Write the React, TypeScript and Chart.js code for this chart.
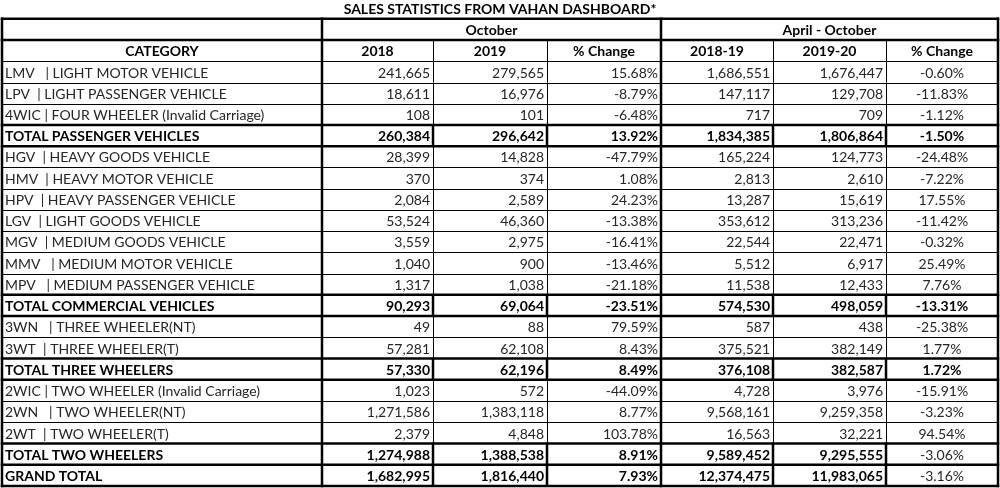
import React, { useEffect, useRef } from "react";
import { Chart, registerables } from "chart.js";

Chart.register(...registerables);

const titleText = "SALES STATISTICS FROM VAHAN DASHBOARD*";
const groupHeaders = ["October", "April - October"];
const columnHeaders = ["CATEGORY", "2018", "2019", "% Change", "2018-19", "2019-20", "% Change"];

const categories = [
  "LMV   | LIGHT MOTOR VEHICLE",
  "LPV  | LIGHT PASSENGER VEHICLE",
  "4WIC | FOUR WHEELER (Invalid Carriage)",
  "TOTAL PASSENGER VEHICLES",
  "HGV  | HEAVY GOODS VEHICLE",
  "HMV  | HEAVY MOTOR VEHICLE",
  "HPV  | HEAVY PASSENGER VEHICLE",
  "LGV  | LIGHT GOODS VEHICLE",
  "MGV  | MEDIUM GOODS VEHICLE",
  "MMV   | MEDIUM MOTOR VEHICLE",
  "MPV   | MEDIUM PASSENGER VEHICLE",
  "TOTAL COMMERCIAL VEHICLES",
  "3WN   | THREE WHEELER(NT)",
  "3WT  | THREE WHEELER(T)",
  "TOTAL THREE WHEELERS",
  "2WIC | TWO WHEELER (Invalid Carriage)",
  "2WN   | TWO WHEELER(NT)",
  "2WT  | TWO WHEELER(T)",
  "TOTAL TWO WHEELERS",
  "GRAND TOTAL",
];

const oct2018 = [241665, 18611, 108, 260384, 28399, 370, 2084, 53524, 3559, 1040, 1317, 90293, 49, 57281, 57330, 1023, 1271586, 2379, 1274988, 1682995];
const oct2019 = [279565, 16976, 101, 296642, 14828, 374, 2589, 46360, 2975, 900, 1038, 69064, 88, 62108, 62196, 572, 1383118, 4848, 1388538, 1816440];
const octChange = [15.68, -8.79, -6.48, 13.92, -47.79, 1.08, 24.23, -13.38, -16.41, -13.46, -21.18, -23.51, 79.59, 8.43, 8.49, -44.09, 8.77, 103.78, 8.91, 7.93];
const ytd1819 = [1686551, 147117, 717, 1834385, 165224, 2813, 13287, 353612, 22544, 5512, 11538, 574530, 587, 375521, 376108, 4728, 9568161, 16563, 9589452, 12374475];
const ytd1920 = [1676447, 129708, 709, 1806864, 124773, 2610, 15619, 313236, 22471, 6917, 12433, 498059, 438, 382149, 382587, 3976, 9259358, 32221, 9295555, 11983065];
const ytdChange = [-0.6, -11.83, -1.12, -1.5, -24.48, -7.22, 17.55, -11.42, -0.32, 25.49, 7.76, -13.31, -25.38, 1.77, 1.72, -15.91, -3.23, 94.54, -3.06, -3.16];

const totalRows = [3, 11, 14, 18, 19];

// layout (table units on the x scale, row units on the y scale)
const colEdges = [0, 320, 431, 545, 659, 771, 884, 996];
const HEADER_ROWS = 2;
const FONT = "Lato, 'Noto Sans', sans-serif";
const FS = 14;

const fmtNum = (v: number) => v.toLocaleString("en-US");
const fmtPct = (v: number) => v.toFixed(2) + "%";

const tablePlugin = {
  id: "tablePlugin",
  afterDraw(chart: any) {
    const ctx = chart.ctx as CanvasRenderingContext2D;
    const xs = chart.scales.x;
    const ys = chart.scales.y;
    const X = (v: number) => xs.getPixelForValue(v);
    const Y = (v: number) => ys.getPixelForValue(v);
    const nRows = HEADER_ROWS + categories.length;

    ctx.save();
    const text = (s: string, x: number, row: number, align: CanvasTextAlign, bold: boolean) => {
      ctx.font = `${bold ? "bold " : ""}${FS}px ${FONT}`;
      ctx.fillStyle = bold ? "#000" : "#262626";
      ctx.textAlign = align;
      ctx.textBaseline = "alphabetic";
      const yb = Y(row + 1) - 5;
      ctx.fillText(s, x, yb);
    };

    // header row 1
    text(groupHeaders[0], (X(colEdges[1]) + X(colEdges[4])) / 2, 0, "center", true);
    text(groupHeaders[1], (X(colEdges[4]) + X(colEdges[7])) / 2, 0, "center", true);
    // header row 2
    columnHeaders.forEach((h, c) => {
      text(h, (X(colEdges[c]) + X(colEdges[c + 1])) / 2, 1, "center", true);
    });

    categories.forEach((cat, i) => {
      const r = HEADER_ROWS + i;
      const bold = totalRows.includes(i);
      text(cat, X(colEdges[0]) + 3, r, "left", bold);
      text(fmtNum(oct2018[i]), X(colEdges[2]) - 3, r, "right", bold);
      text(fmtNum(oct2019[i]), X(colEdges[3]) - 3, r, "right", bold);
      text(fmtPct(octChange[i]), X(colEdges[4]) - 3, r, "right", bold);
      text(fmtNum(ytd1819[i]), X(colEdges[5]) - 3, r, "right", bold);
      text(fmtNum(ytd1920[i]), X(colEdges[6]) - 3, r, "right", bold);
      text(fmtPct(ytdChange[i]), (X(colEdges[6]) + X(colEdges[7])) / 2, r, "center", bold && i < 18);
    });

    const line = (x1: number, y1: number, x2: number, y2: number, w: number) => {
      ctx.beginPath();
      ctx.lineWidth = w;
      ctx.strokeStyle = "#000";
      if (w === 1) {
        if (x1 === x2) { x1 = x2 = Math.round(x1) + 0.5; }
        if (y1 === y2) { y1 = y2 = Math.round(y1) + 0.5; }
      }
      ctx.moveTo(x1, y1);
      ctx.lineTo(x2, y2);
      ctx.stroke();
    };

    const L = X(colEdges[0]);
    const R = X(colEdges[colEdges.length - 1]);
    const isTotalRow = (r: number) => r >= HEADER_ROWS && totalRows.includes(r - HEADER_ROWS);
    const thickH = (b: number) => b === 0 || b === 1 || b === nRows || isTotalRow(b) || isTotalRow(b - 1);

    // thin horizontal lines
    for (let b = 2; b < nRows; b++) if (!thickH(b)) line(L, Y(b), R, Y(b), 1);
    // thin vertical lines
    [2, 3, 5, 6].forEach((c) => {
      for (let r = 1; r < nRows; r++) {
        if (!isTotalRow(r)) line(X(colEdges[c]), Y(r), X(colEdges[c]), Y(r + 1), 1);
      }
    });
    // thick vertical segments in total rows
    [2, 3, 5, 6].forEach((c) => {
      for (let r = 1; r < nRows; r++) {
        if (isTotalRow(r)) line(X(colEdges[c]), Y(r) - 1, X(colEdges[c]), Y(r + 1) + 1, 2.5);
      }
    });
    // thick horizontal lines
    for (let b = 0; b <= nRows; b++) if (thickH(b)) line(L - 1.25, Y(b), R + 1.25, Y(b), 2.5);
    // thick vertical lines
    [0, 1, 4, 7].forEach((c) => line(X(colEdges[c]), Y(0) - 1.25, X(colEdges[c]), Y(nRows) + 1.25, 2.5));
    ctx.restore();
  },
};

export default function App() {
  const ref = useRef<HTMLCanvasElement | null>(null);
  useEffect(() => {
    if (!ref.current) return;
    const nRows = HEADER_ROWS + categories.length;
    const chart = new Chart(ref.current, {
      type: "scatter",
      data: { datasets: [] },
      options: {
        animation: false,
        responsive: true,
        maintainAspectRatio: false,
        layout: { padding: { left: 2, right: 2, top: 0, bottom: 2 } },
        plugins: {
          legend: { display: false },
          tooltip: { enabled: false },
          title: {
            display: true,
            text: titleText,
            color: "#000",
            font: { family: FONT, size: 14, weight: "bold" },
            padding: { top: 1, bottom: 1 },
          },
        },
        scales: {
          x: { type: "linear", display: false, min: colEdges[0], max: colEdges[colEdges.length - 1] },
          y: { type: "linear", display: false, min: 0, max: nRows, reverse: true },
        },
      },
      plugins: [tablePlugin],
    });
    return () => chart.destroy();
  }, []);
  return (
    <div style={{ position: "fixed", left: 0, top: 0, width: 1000, height: 488, background: "#fff" }}>
      <canvas ref={ref} />
    </div>
  );
}
